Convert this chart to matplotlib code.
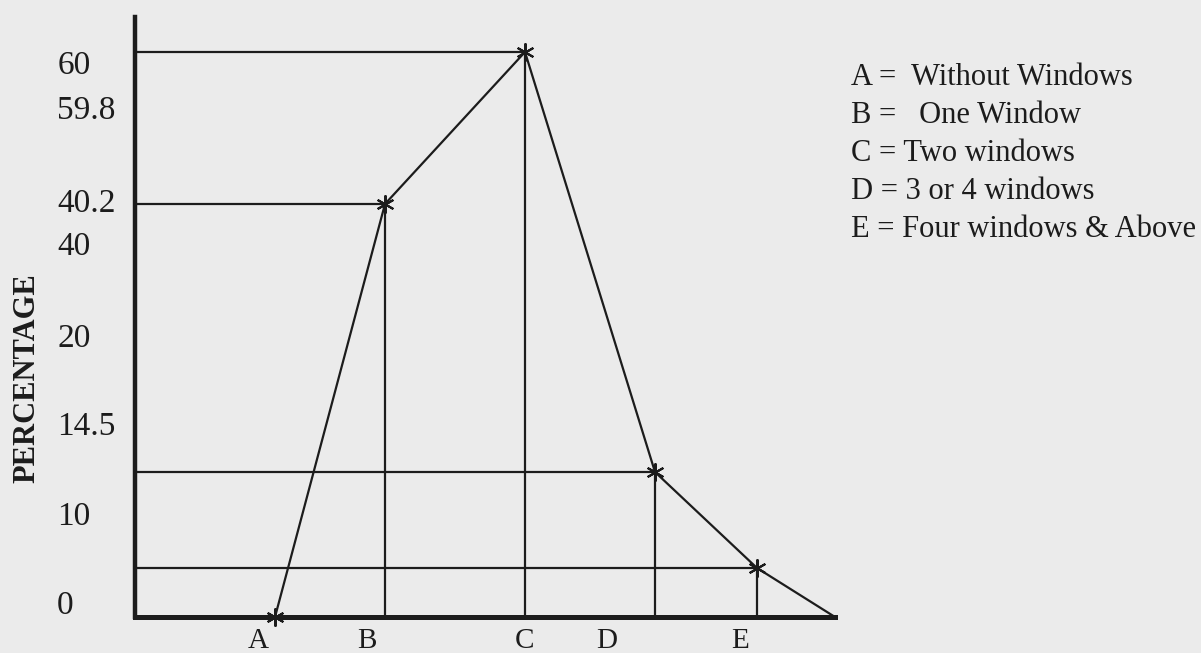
import numpy as np
import matplotlib
matplotlib.use("Agg")
from matplotlib import pyplot as plt

CATEGORIES = ["A", "B", "C", "D", "E"]
PERCENT = [0, 40.2, 59.8, 14.5, 5.0]
Y_TICK_LABELS = ["60", "59.8", "40.2", "40", "20", "14.5", "10", "0"]
LEGEND_LINES = [
    "A =  Without Windows",
    "B =   One Window",
    "C = Two windows",
    "D = 3 or 4 windows",
    "E = Four windows & Above",
]

# the chart is hand drawn, so neither axis is linear.
# vertical: value -> px above the baseline
SCALE_VALUES = [-3, 0, 5, 14.5, 40.2, 59.8, 63]
SCALE_HEIGHTS = [-30, 0, 49, 145, 413, 565, 600]
# horizontal: category index -> px right of the y axis
X_SCALE_IDX = [-1, 0, 1, 2, 3, 4, 4.6, 5]
X_SCALE_PX = [0, 140, 250, 390, 520, 622, 700, 745]

# where the written labels sit (px), they don't line up with the marks
TICK_HEIGHTS = [555, 510, 417, 374, 282, 194, 104, 15]
X_LABEL_PX = [123, 232, 390, 472, 605]

INK = "#1c1c1c"
PAPER = "#ebebeb"

plt.rcParams['font.family'] = ['Liberation Serif', 'DejaVu Serif']


def y_fwd(v):
    return np.interp(v, SCALE_VALUES, SCALE_HEIGHTS)


def y_inv(h):
    return np.interp(h, SCALE_HEIGHTS, SCALE_VALUES)


def x_fwd(i):
    return np.interp(i, X_SCALE_IDX, X_SCALE_PX)


def x_inv(p):
    return np.interp(p, X_SCALE_PX, X_SCALE_IDX)


fig = plt.figure(figsize=(12.01, 6.53), dpi=100, facecolor=PAPER)
W, H = 1201, 653
ax = fig.add_axes([135 / W, (H - 647) / H, 745 / W, 630 / H])
ax.set_facecolor(PAPER)
ax.set_yscale('function', functions=(y_fwd, y_inv))
ax.set_xscale('function', functions=(x_fwd, x_inv))
ax.set_ylim(-3, 63)
x0 = -1
ax.set_xlim(x0, 5)

xs = np.arange(len(CATEGORIES))
tail = 4.6  # line runs back down to the baseline after E

# guide lines from each point to both axes
for x, v in zip(xs, PERCENT):
    if v <= 0:
        continue
    ax.hlines(v, x0, x, color=INK, lw=1.6)
    ax.vlines(x, 0, v, color=INK, lw=1.6)

ax.plot(list(xs) + [tail], PERCENT + [0], color=INK, lw=1.6)
ax.plot(xs, PERCENT, ls='none', marker=(6, 2, 0), ms=13, mew=1.5, color=INK)

# axes
for s in ['top', 'right']:
    ax.spines[s].set_visible(False)
ax.spines['left'].set_bounds(0, 63)
ax.spines['left'].set_linewidth(3.2)
ax.spines['left'].set_color(INK)
ax.spines['bottom'].set_position(('data', 0))
ax.spines['bottom'].set_bounds(-1.04, tail)
ax.spines['bottom'].set_linewidth(3.6)
ax.spines['bottom'].set_color(INK)

ax.set_xticks(x_inv(np.array(X_LABEL_PX)), CATEGORIES)
ax.tick_params(axis='x', length=0, pad=8, labelsize=21, labelcolor=INK)

ax.set_yticks(y_inv(np.array(TICK_HEIGHTS)), Y_TICK_LABELS)
ax.tick_params(axis='y', length=0, pad=56, labelsize=24, labelcolor=INK)
for lbl in ax.get_yticklabels():
    lbl.set_horizontalalignment('left')

fig.text(27 / W, 1 - 378 / H, "PERCENTAGE", rotation=90, fontsize=22,
         fontweight='bold', ha='center', va='center', color=INK)

for i, line in enumerate(LEGEND_LINES):
    fig.text(851 / W, 1 - (85 + 38 * i) / H, line, fontsize=22,
             ha='left', va='baseline', color=INK)

fig.savefig("out.png", dpi=100, facecolor=fig.get_facecolor())
